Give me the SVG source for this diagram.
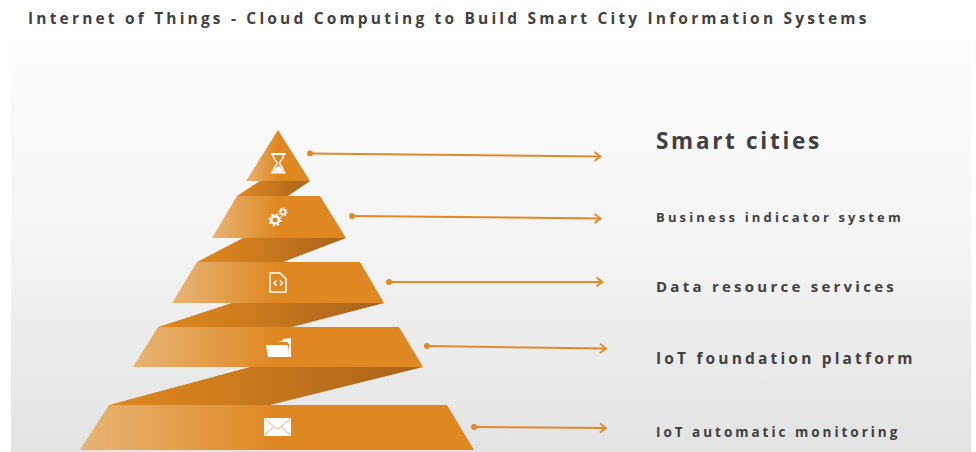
<svg xmlns="http://www.w3.org/2000/svg" width="976" height="452" viewBox="0 0 976 452">
<style>
.t{font-family:"Open Sans","Noto Sans","Liberation Sans",sans-serif;font-weight:700;fill:#404040}
.c{stroke:#e08a2a;stroke-width:2;fill:none;marker-end:url(#arr)}
.d{fill:#e08a2a}
.w{fill:#fff}
.wl{fill:none;stroke:#fff;stroke-width:1.6}
.tr{fill:url(#face)}
.fo{fill:url(#fold)}
</style>
<defs>
<linearGradient id="bg" x1="0" y1="0" x2="0" y2="1"><stop offset="0" stop-color="#fefefe"/><stop offset=".5" stop-color="#f4f4f4"/><stop offset="1" stop-color="#e3e3e3"/></linearGradient>
<linearGradient id="face" x1="0" y1="0" x2="1" y2="0"><stop offset="0" stop-color="#e8b477"/><stop offset=".5" stop-color="#df8720"/><stop offset="1" stop-color="#df8720"/></linearGradient>
<linearGradient id="fold" x1="0" y1="0" x2="1" y2="0"><stop offset="0" stop-color="#df8720"/><stop offset=".3" stop-color="#d27e1e"/><stop offset="1" stop-color="#a9631a"/></linearGradient>
<marker id="arr" markerUnits="userSpaceOnUse" markerWidth="12" markerHeight="12" refX="10" refY="6" orient="auto"><path d="M4 1.500L10 6L4 10.500" fill="none" stroke="#e08a2a" stroke-width="1.800"/></marker>
</defs>
<rect width="976" height="452" fill="#fff"/>
<rect x="11" y="39" width="960" height="413" fill="url(#bg)"/>
<text id="title" class="t" x="28" y="24" font-size="15.500" letter-spacing="3.180">Internet of Things - Cloud Computing to Build Smart City Information Systems</text>
<g id="folds">
<polygon class="fo" points="260,181 310,181 288,196 237,196"/>
<polygon class="fo" points="243,238 346,238 283,262 197,262"/>
<polygon class="fo" points="232,303 384,303 292,327 158,327"/>
<polygon class="fo" points="250,367 423,367 270,405 109,405"/>
</g>
<g id="connectors">
<path class="c" d="M310 153.500L600.500 156.500"/><circle class="d" cx="310" cy="153.500" r="3"/>
<path class="c" d="M352 216L600.500 218.500"/><circle class="d" cx="352" cy="216" r="3"/>
<path class="c" d="M389 282L602.500 282"/><circle class="d" cx="389" cy="282" r="3"/>
<path class="c" d="M427 346L606 348.500"/><circle class="d" cx="427" cy="346" r="3"/>
<path class="c" d="M474 427L606 428"/><circle class="d" cx="474" cy="427" r="3"/>
</g>
<g id="level1">
<polygon class="tr" points="278,130 310,181 246,181"/>
<path class="w" d="M271 153h14.500v2h-14.500zM271 171.500h14.500v2h-14.500z"/>
<path class="wl" d="M273 155c0 5 4 5.500 4 8s-4 3.500-4 8.500M283.500 155c0 5-4 5.500-4 8s4 3.500 4 8.500"/>
<path class="w" d="M273.500 171.500c1-3 3-4.500 4.800-5.500 1.700 1 3.700 2.500 4.700 5.500z"/>
</g>
<text class="t" x="656" y="148.500" font-size="22.500" letter-spacing="2.700">Smart cities</text>
<g id="level2">
<polygon class="tr" points="237,196 320,196 346,238 212,238"/>
<circle cx="275" cy="220" r="3.800" fill="none" stroke="#fff" stroke-width="2.600"/>
<circle cx="275" cy="220" r="5.700" fill="none" stroke="#fff" stroke-width="1.800" stroke-dasharray="2 2.500"/>
<circle cx="283" cy="212" r="2.500" fill="none" stroke="#fff" stroke-width="1.600"/>
<circle cx="283" cy="212" r="3.900" fill="none" stroke="#fff" stroke-width="1.300" stroke-dasharray="1.500 1.500"/>
</g>
<text class="t" x="656" y="222" font-size="13" letter-spacing="3.160">Business indicator system</text>
<g id="level3">
<polygon class="tr" points="197,262 360,262 384,303 172,303"/>
<path class="wl" stroke-width="2.400" d="M270 273h10l6 6v13h-16z"/>
<path class="wl" stroke-width="1.200" d="M276.500 280.500l-2.500 2.500 2.500 2.500M280 280.500l2.500 2.500-2.500 2.500"/>
</g>
<text class="t" x="656" y="292" font-size="15" letter-spacing="3.250">Data resource services</text>
<g id="level4">
<polygon class="tr" points="158,327 399,327 423,367 133,367"/>
<path class="w" d="M277 342l5-1 1-2 8-1v19h-2v-13l-2-2z"/>
<path class="w" d="M266 345h21l1.500 2 .5 10h-21z"/>
</g>
<text class="t" x="656" y="364" font-size="15.500" letter-spacing="3.170">IoT foundation platform</text>
<g id="level5">
<polygon class="tr" points="109,405 447,405 474,450 80,450"/>
<rect class="w" x="264" y="418" width="27" height="18" rx="1"/>
<path d="M265 419l12.500 10.500L290 419M265 435l9-8.500M290 435l-9-8.500" fill="none" stroke="#e8b477" stroke-width="1"/>
</g>
<text class="t" x="656" y="437" font-size="13.500" letter-spacing="2.980">IoT automatic monitoring</text>
</svg>
